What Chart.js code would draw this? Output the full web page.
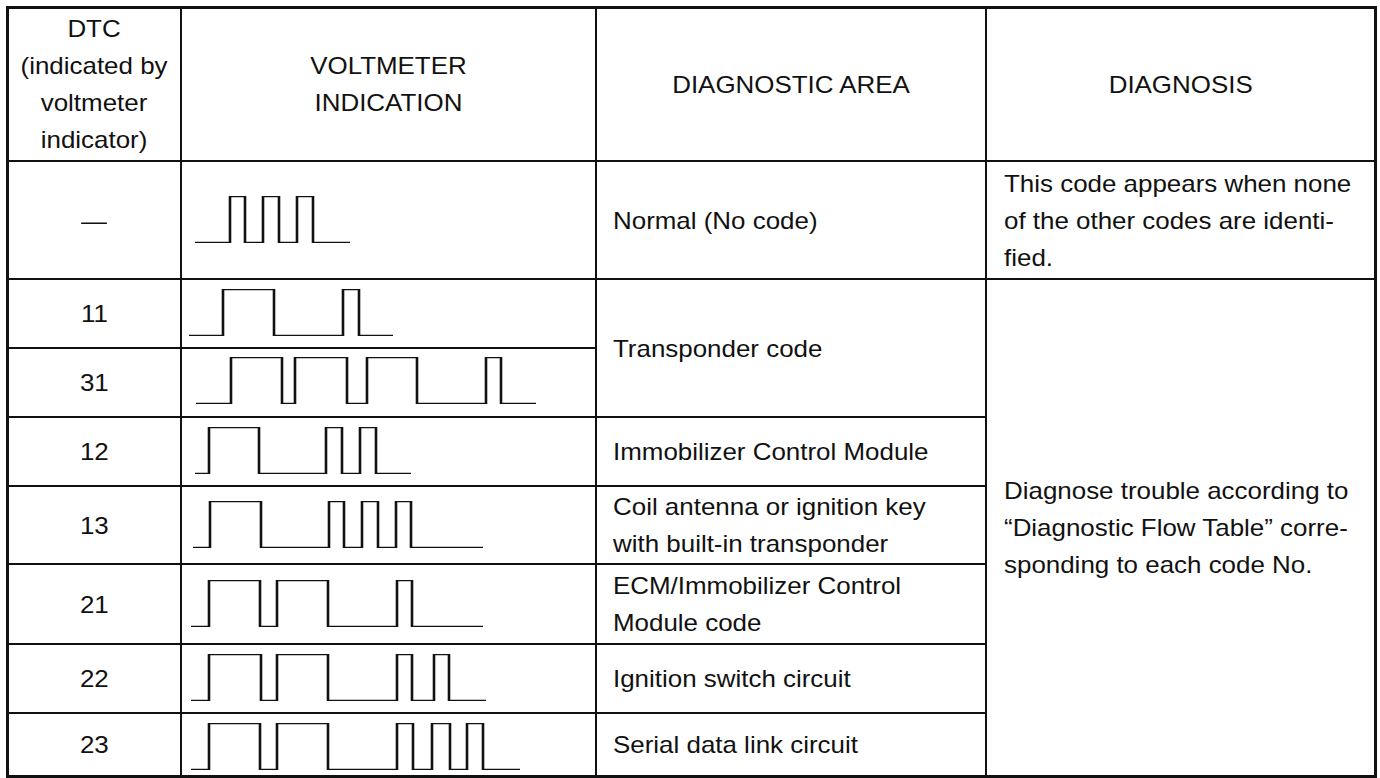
<!DOCTYPE html>
<html>
<head>
<meta charset="utf-8">
<script src="https://cdn.jsdelivr.net/npm/chart.js@4.4.1/dist/chart.umd.min.js"></script>
<style>
  html, body { margin: 0; padding: 0; background: #fff; }
  body { width: 1380px; height: 778px; position: relative; overflow: hidden;
         font-family: "Liberation Sans", Arial, Helvetica, sans-serif; color: #111; }
  .ln { position: absolute; background: #111; }
  .cell { position: absolute; display: flex; align-items: center; box-sizing: border-box; }
  .cell.c { justify-content: center; text-align: center; }
  .cell.l { justify-content: flex-start; text-align: left; }
  .txt { font-size: 24px; line-height: 37px; white-space: nowrap; display: inline-block; }
  .cell.c .txt { transform: scaleX(1.08); transform-origin: center center; }
  .cell.l .txt { transform: scaleX(1.08); transform-origin: left center; }
  canvas.wave { position: absolute; }
</style>
</head>
<body>
<script>
// ---------- DATA ----------
const headerLabels = ["DTC<br>(indicated by<br>voltmeter<br>indicator)", "VOLTMETER<br>INDICATION", "DIAGNOSTIC AREA", "DIAGNOSIS"];
const dtcCodes = ["\u2014", "11", "31", "12", "13", "21", "22", "23"];
const diagnosticAreas = ["Normal (No code)", "Transponder code", "Immobilizer Control Module",
  "Coil antenna or ignition key<br>with built-in transponder", "ECM/Immobilizer Control<br>Module code",
  "Ignition switch circuit", "Serial data link circuit"];
const diagnosticAreaRowSpans = [1, 2, 1, 1, 1, 1, 1];
const diagnoses = ["This code appears when none<br>of the other codes are identi-<br>fied.",
  "Diagnose trouble according to<br>\u201cDiagnostic Flow Table\u201d corre-<br>sponding to each code No."];
const diagnosisRowSpans = [1, 7];

// Voltmeter waveforms: edge times (start, rise, fall, ..., end), signal starts and ends low
const waveNormal = [14, 49, 64, 82, 98, 116, 132, 169];
const wave11 = [8, 42, 93, 162, 178, 212];
const wave31 = [15, 50, 101, 114, 166, 186, 236, 305, 320, 355];
const wave12 = [14, 28, 78, 145, 161, 179, 195, 230];
const wave13 = [12, 29, 80, 148, 163, 181, 197, 215, 230, 302];
const wave21 = [10, 28, 79, 96, 147, 216, 231, 302];
const wave22 = [10, 28, 80, 96, 147, 216, 231, 253, 268, 305];
const wave23 = [10, 28, 79, 96, 147, 216, 232, 251, 269, 286, 302, 339];
const waves = [waveNormal, wave11, wave31, wave12, wave13, wave21, wave22, wave23];

// ---------- LAYOUT ----------
const colEdges = [7, 181, 596, 986, 1375];
const rowEdges = [7, 161, 279, 348, 417, 486, 564, 644, 713, 776];
const waveHigh = [196, 289, 357, 427, 501, 580, 654, 723];
const waveAmp = 47;
const outerW = 3, innerW = 2;

function line(x, y, w, h) {
  const d = document.createElement('div');
  d.className = 'ln';
  d.style.left = x + 'px'; d.style.top = y + 'px';
  d.style.width = w + 'px'; d.style.height = h + 'px';
  document.body.appendChild(d);
}
function cell(x0, x1, y0, y1, html, align, padL) {
  const d = document.createElement('div');
  d.className = 'cell ' + align;
  d.style.left = x0 + 'px'; d.style.top = y0 + 'px';
  d.style.width = (x1 - x0) + 'px'; d.style.height = (y1 - y0) + 'px';
  if (padL) d.style.paddingLeft = padL + 'px';
  const s = document.createElement('span');
  s.className = 'txt';
  s.innerHTML = html;
  d.appendChild(s);
  document.body.appendChild(d);
}

// grid lines
const L = colEdges[0], R = colEdges[4], T = rowEdges[0], B = rowEdges[rowEdges.length - 1];
line(L - 1, T - 1, R - L + 3, outerW);
line(L - 1, B - 1, R - L + 3, outerW);
line(L - 1, T - 1, outerW, B - T + 3);
line(R - 1, T - 1, outerW, B - T + 3);
for (let i = 1; i <= 3; i++) line(colEdges[i] - 1, T, innerW, B - T);
line(L, rowEdges[1] - 1, R - L, innerW);
line(L, rowEdges[2] - 1, R - L, innerW);
line(L, rowEdges[3] - 1, colEdges[2] - L, innerW);
for (let r = 4; r < rowEdges.length - 1; r++) line(L, rowEdges[r] - 1, colEdges[3] - L, innerW);

// header
headerLabels.forEach((h, i) => cell(colEdges[i], colEdges[i + 1], rowEdges[0], rowEdges[1], h, 'c'));
// DTC codes
dtcCodes.forEach((c, i) => cell(colEdges[0], colEdges[1], rowEdges[i + 1], rowEdges[i + 2], c, 'c'));
// diagnostic areas
let r = 1;
diagnosticAreas.forEach((a, i) => {
  const span = diagnosticAreaRowSpans[i];
  cell(colEdges[2], colEdges[3], rowEdges[r], rowEdges[r + span], a, 'l', 17);
  r += span;
});
r = 1;
diagnoses.forEach((a, i) => {
  const span = diagnosisRowSpans[i];
  cell(colEdges[3], colEdges[4], rowEdges[r], rowEdges[r + span], a, 'l', 18);
  r += span;
});

// waveforms
const colW = colEdges[2] - colEdges[1];
waves.forEach((edges, i) => {
  const pts = edges.map((t, k) => ({ x: t, y: (k === edges.length - 1) ? 0 : (k % 2) }));
  const cv = document.createElement('canvas');
  cv.className = 'wave';
  const pad = 3;
  cv.width = colW; cv.height = waveAmp + 2 * pad;
  cv.style.left = colEdges[1] + 'px';
  cv.style.top = (waveHigh[i] - pad) + 'px';
  cv.style.width = colW + 'px'; cv.style.height = (waveAmp + 2 * pad) + 'px';
  document.body.appendChild(cv);
  new Chart(cv.getContext('2d'), {
    type: 'line',
    data: { datasets: [{ data: pts, stepped: true, borderColor: '#111', borderWidth: 2.6,
      pointRadius: 0, fill: false, borderJoinStyle: 'miter', borderCapStyle: 'butt' }] },
    options: {
      responsive: false, animation: false, events: [],
      layout: { padding: { top: pad, bottom: pad, left: 0, right: 0 } },
      plugins: { legend: { display: false }, tooltip: { enabled: false } },
      scales: {
        x: { type: 'linear', display: false, min: 0, max: colW },
        y: { type: 'linear', display: false, min: 0, max: 1 }
      }
    }
  });
});
</script>
</body>
</html>
